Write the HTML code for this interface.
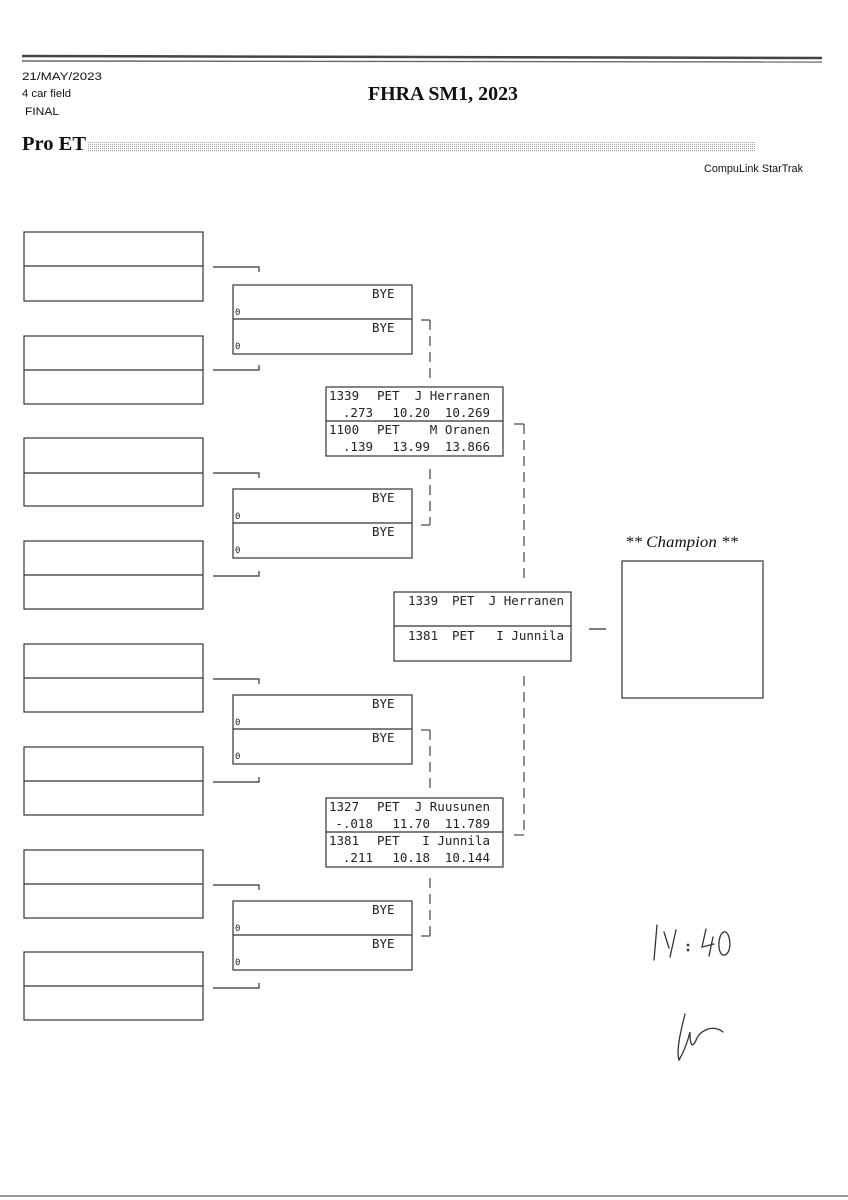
<!DOCTYPE html>
<html><head><meta charset="utf-8"><style>
html,body{margin:0;padding:0;background:#fff;}
svg{display:block}
.m{font-family:"DejaVu Sans Mono","Liberation Mono",monospace;font-size:12.5px;fill:#222}
.s{font-family:"Liberation Sans",sans-serif;font-size:11px;fill:#111}
</style></head><body>
<svg width="848" height="1200" viewBox="0 0 848 1200" xmlns="http://www.w3.org/2000/svg">
<defs>
<pattern id="dots" width="2" height="2" patternUnits="userSpaceOnUse"><rect width="1" height="1" fill="#888"/></pattern>
</defs>
<rect width="848" height="1200" fill="#fff"/>
<line x1="22" y1="56" x2="822" y2="58" stroke="#444" stroke-width="2.5"/>
<line x1="22" y1="61" x2="822" y2="62" stroke="#666" stroke-width="1.4"/>
<text x="22" y="80" class="s" textLength="80" lengthAdjust="spacingAndGlyphs">21/MAY/2023</text>
<text x="22" y="97" class="s" textLength="49" lengthAdjust="spacingAndGlyphs">4 car field</text>
<text x="25" y="115" class="s" textLength="34" lengthAdjust="spacingAndGlyphs">FINAL</text>
<text x="368" y="100" font-family="Liberation Serif,serif" font-weight="bold" font-size="20" fill="#111" textLength="150" lengthAdjust="spacingAndGlyphs">FHRA SM1, 2023</text>
<text x="22" y="150" font-family="Liberation Serif,serif" font-weight="bold" font-size="20" fill="#111" textLength="64" lengthAdjust="spacingAndGlyphs">Pro ET</text>
<rect x="88" y="142" width="668" height="10" fill="url(#dots)" opacity="0.8"/>
<text x="704" y="172" class="s" textLength="99" lengthAdjust="spacingAndGlyphs">CompuLink StarTrak</text>
<line x1="0" y1="1196" x2="848" y2="1196" stroke="#777" stroke-width="1.5"/>

<g fill="none" stroke="#333" stroke-width="1.2">
<rect x="24" y="232" width="179" height="69"/><line x1="24" y1="266" x2="203" y2="266"/>
<rect x="24" y="336" width="179" height="68"/><line x1="24" y1="370" x2="203" y2="370"/>
<rect x="24" y="438" width="179" height="68"/><line x1="24" y1="473" x2="203" y2="473"/>
<rect x="24" y="541" width="179" height="68"/><line x1="24" y1="575" x2="203" y2="575"/>
<rect x="24" y="644" width="179" height="68"/><line x1="24" y1="678" x2="203" y2="678"/>
<rect x="24" y="747" width="179" height="68"/><line x1="24" y1="781" x2="203" y2="781"/>
<rect x="24" y="850" width="179" height="68"/><line x1="24" y1="884" x2="203" y2="884"/>
<rect x="24" y="952" width="179" height="68"/><line x1="24" y1="986" x2="203" y2="986"/>
<path d="M213 267H259V272"/><path d="M213 370H259V365"/>
<path d="M213 473H259V478"/><path d="M213 576H259V571"/>
<path d="M213 679H259V684"/><path d="M213 782H259V777"/>
<path d="M213 885H259V890"/><path d="M213 988H259V983"/>
<rect x="233" y="285" width="179" height="69"/><line x1="233" y1="319" x2="412" y2="319"/>
<rect x="233" y="489" width="179" height="69"/><line x1="233" y1="523" x2="412" y2="523"/>
<rect x="233" y="695" width="179" height="69"/><line x1="233" y1="729" x2="412" y2="729"/>
<rect x="233" y="901" width="179" height="69"/><line x1="233" y1="935" x2="412" y2="935"/>
<rect x="326" y="387" width="177" height="69"/><line x1="326" y1="421" x2="503" y2="421"/>
<rect x="326" y="798" width="177" height="69"/><line x1="326" y1="832" x2="503" y2="832"/>
<rect x="394" y="592" width="177" height="69"/><line x1="394" y1="626" x2="571" y2="626"/>
<line x1="589" y1="629" x2="606" y2="629"/>
<rect x="622" y="561" width="141" height="137"/>
</g>
<g fill="none" stroke="#444" stroke-width="1.2">
<path d="M421 320H430"/><path d="M421 525H430"/>
<path d="M421 730H430"/><path d="M421 936H430"/>
<path d="M514 424H524"/><path d="M514 835H524"/>
</g>
<g fill="none" stroke="#444" stroke-width="1.2" stroke-dasharray="10,6">
<line x1="430" y1="320" x2="430" y2="380"/>
<line x1="430" y1="469" x2="430" y2="525"/>
<line x1="430" y1="730" x2="430" y2="790"/>
<line x1="430" y1="878" x2="430" y2="936"/>
<line x1="524" y1="424" x2="524" y2="584"/>
<line x1="524" y1="676" x2="524" y2="835"/>
</g>
<g class="m">
<text x="372" y="298">BYE</text><text x="235" y="315" font-size="9">0</text>
<text x="372" y="332">BYE</text><text x="235" y="349" font-size="9">0</text>
<text x="372" y="502">BYE</text><text x="235" y="519" font-size="9">0</text>
<text x="372" y="536">BYE</text><text x="235" y="553" font-size="9">0</text>
<text x="372" y="708">BYE</text><text x="235" y="725" font-size="9">0</text>
<text x="372" y="742">BYE</text><text x="235" y="759" font-size="9">0</text>
<text x="372" y="914">BYE</text><text x="235" y="931" font-size="9">0</text>
<text x="372" y="948">BYE</text><text x="235" y="965" font-size="9">0</text>
</g>
<g class="m">
<text x="329" y="400">1339</text><text x="377" y="400">PET</text><text x="490" y="400" text-anchor="end">J Herranen</text>
<text x="373" y="417" text-anchor="end">.273</text><text x="430" y="417" text-anchor="end">10.20</text><text x="490" y="417" text-anchor="end">10.269</text>
<text x="329" y="434">1100</text><text x="377" y="434">PET</text><text x="490" y="434" text-anchor="end">M Oranen</text>
<text x="373" y="451" text-anchor="end">.139</text><text x="430" y="451" text-anchor="end">13.99</text><text x="490" y="451" text-anchor="end">13.866</text>
<text x="329" y="811">1327</text><text x="377" y="811">PET</text><text x="490" y="811" text-anchor="end">J Ruusunen</text>
<text x="373" y="828" text-anchor="end">-.018</text><text x="430" y="828" text-anchor="end">11.70</text><text x="490" y="828" text-anchor="end">11.789</text>
<text x="329" y="845">1381</text><text x="377" y="845">PET</text><text x="490" y="845" text-anchor="end">I Junnila</text>
<text x="373" y="862" text-anchor="end">.211</text><text x="430" y="862" text-anchor="end">10.18</text><text x="490" y="862" text-anchor="end">10.144</text>
<text x="408" y="605">1339</text><text x="452" y="605">PET</text><text x="564" y="605" text-anchor="end">J Herranen</text>
<text x="408" y="640">1381</text><text x="452" y="640">PET</text><text x="564" y="640" text-anchor="end">I Junnila</text>
</g>
<text x="625" y="547" font-family="Liberation Serif,serif" font-style="italic" font-size="16" fill="#111" textLength="113" lengthAdjust="spacingAndGlyphs">** Champion **</text>
<g fill="none" stroke="#333" stroke-width="1.3" stroke-linecap="round">
<path d="M657 925L654 960"/>
<path d="M664 932L669 948M676 930L670 957"/>
<circle cx="688" cy="945" r="0.7"/><circle cx="688" cy="950" r="0.7"/>
<path d="M706 929L702 947L714 944M713 937L709 956"/>
<path d="M724 932C717 934 717 957 725 955C733 952 730 930 724 932Z"/>
<path d="M685 1014C681 1030 676 1050 679 1060C685 1050 688 1040 690 1032C690 1045 692 1050 697 1038C700 1032 710 1025 720 1030L723 1032"/>
</g>
</svg>
</body></html>
